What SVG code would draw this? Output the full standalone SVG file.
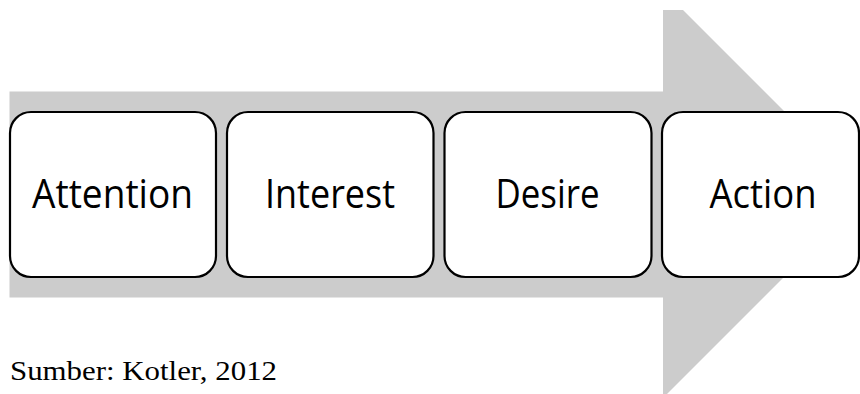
<svg xmlns="http://www.w3.org/2000/svg" width="860" height="394" viewBox="0 0 860 394">
<style>
.box{fill:#ffffff;stroke:#000000;stroke-width:2.2}
.lbl{font-family:"Open Sans","Noto Sans","Liberation Sans",sans-serif;font-size:40px;fill:#000000;text-anchor:middle}
.cap{font-family:"Liberation Serif","Times New Roman",serif;font-size:27px;fill:#000000}
</style>
<rect width="860" height="394" fill="#ffffff"/>
<g id="connectors">
<polygon id="arrow" points="9.5,91.5 663,91.5 663,10 683,10 867,194 667,394 663,394 663,297.5 9.5,297.5" fill="#cccccc"/>
</g>
<g id="attention">
<rect class="box" x="10" y="112" width="206" height="165" rx="21" ry="21"/>
<text class="lbl" x="112.5" y="207.5" textLength="161" lengthAdjust="spacingAndGlyphs">Attention</text>
</g>
<g id="interest">
<rect class="box" x="227" y="112" width="206.5" height="165" rx="21" ry="21"/>
<text class="lbl" x="330" y="207.5" textLength="130" lengthAdjust="spacingAndGlyphs">Interest</text>
</g>
<g id="desire">
<rect class="box" x="444.5" y="112" width="207" height="165" rx="21" ry="21"/>
<text class="lbl" x="547.5" y="207.5" textLength="104" lengthAdjust="spacingAndGlyphs">Desire</text>
</g>
<g id="action">
<rect class="box" x="662" y="112" width="197" height="165" rx="21" ry="21"/>
<text class="lbl" x="763" y="207.5" textLength="107" lengthAdjust="spacingAndGlyphs">Action</text>
</g>
<text class="cap" x="10" y="380" textLength="267" lengthAdjust="spacingAndGlyphs">Sumber: Kotler, 2012</text>
</svg>
